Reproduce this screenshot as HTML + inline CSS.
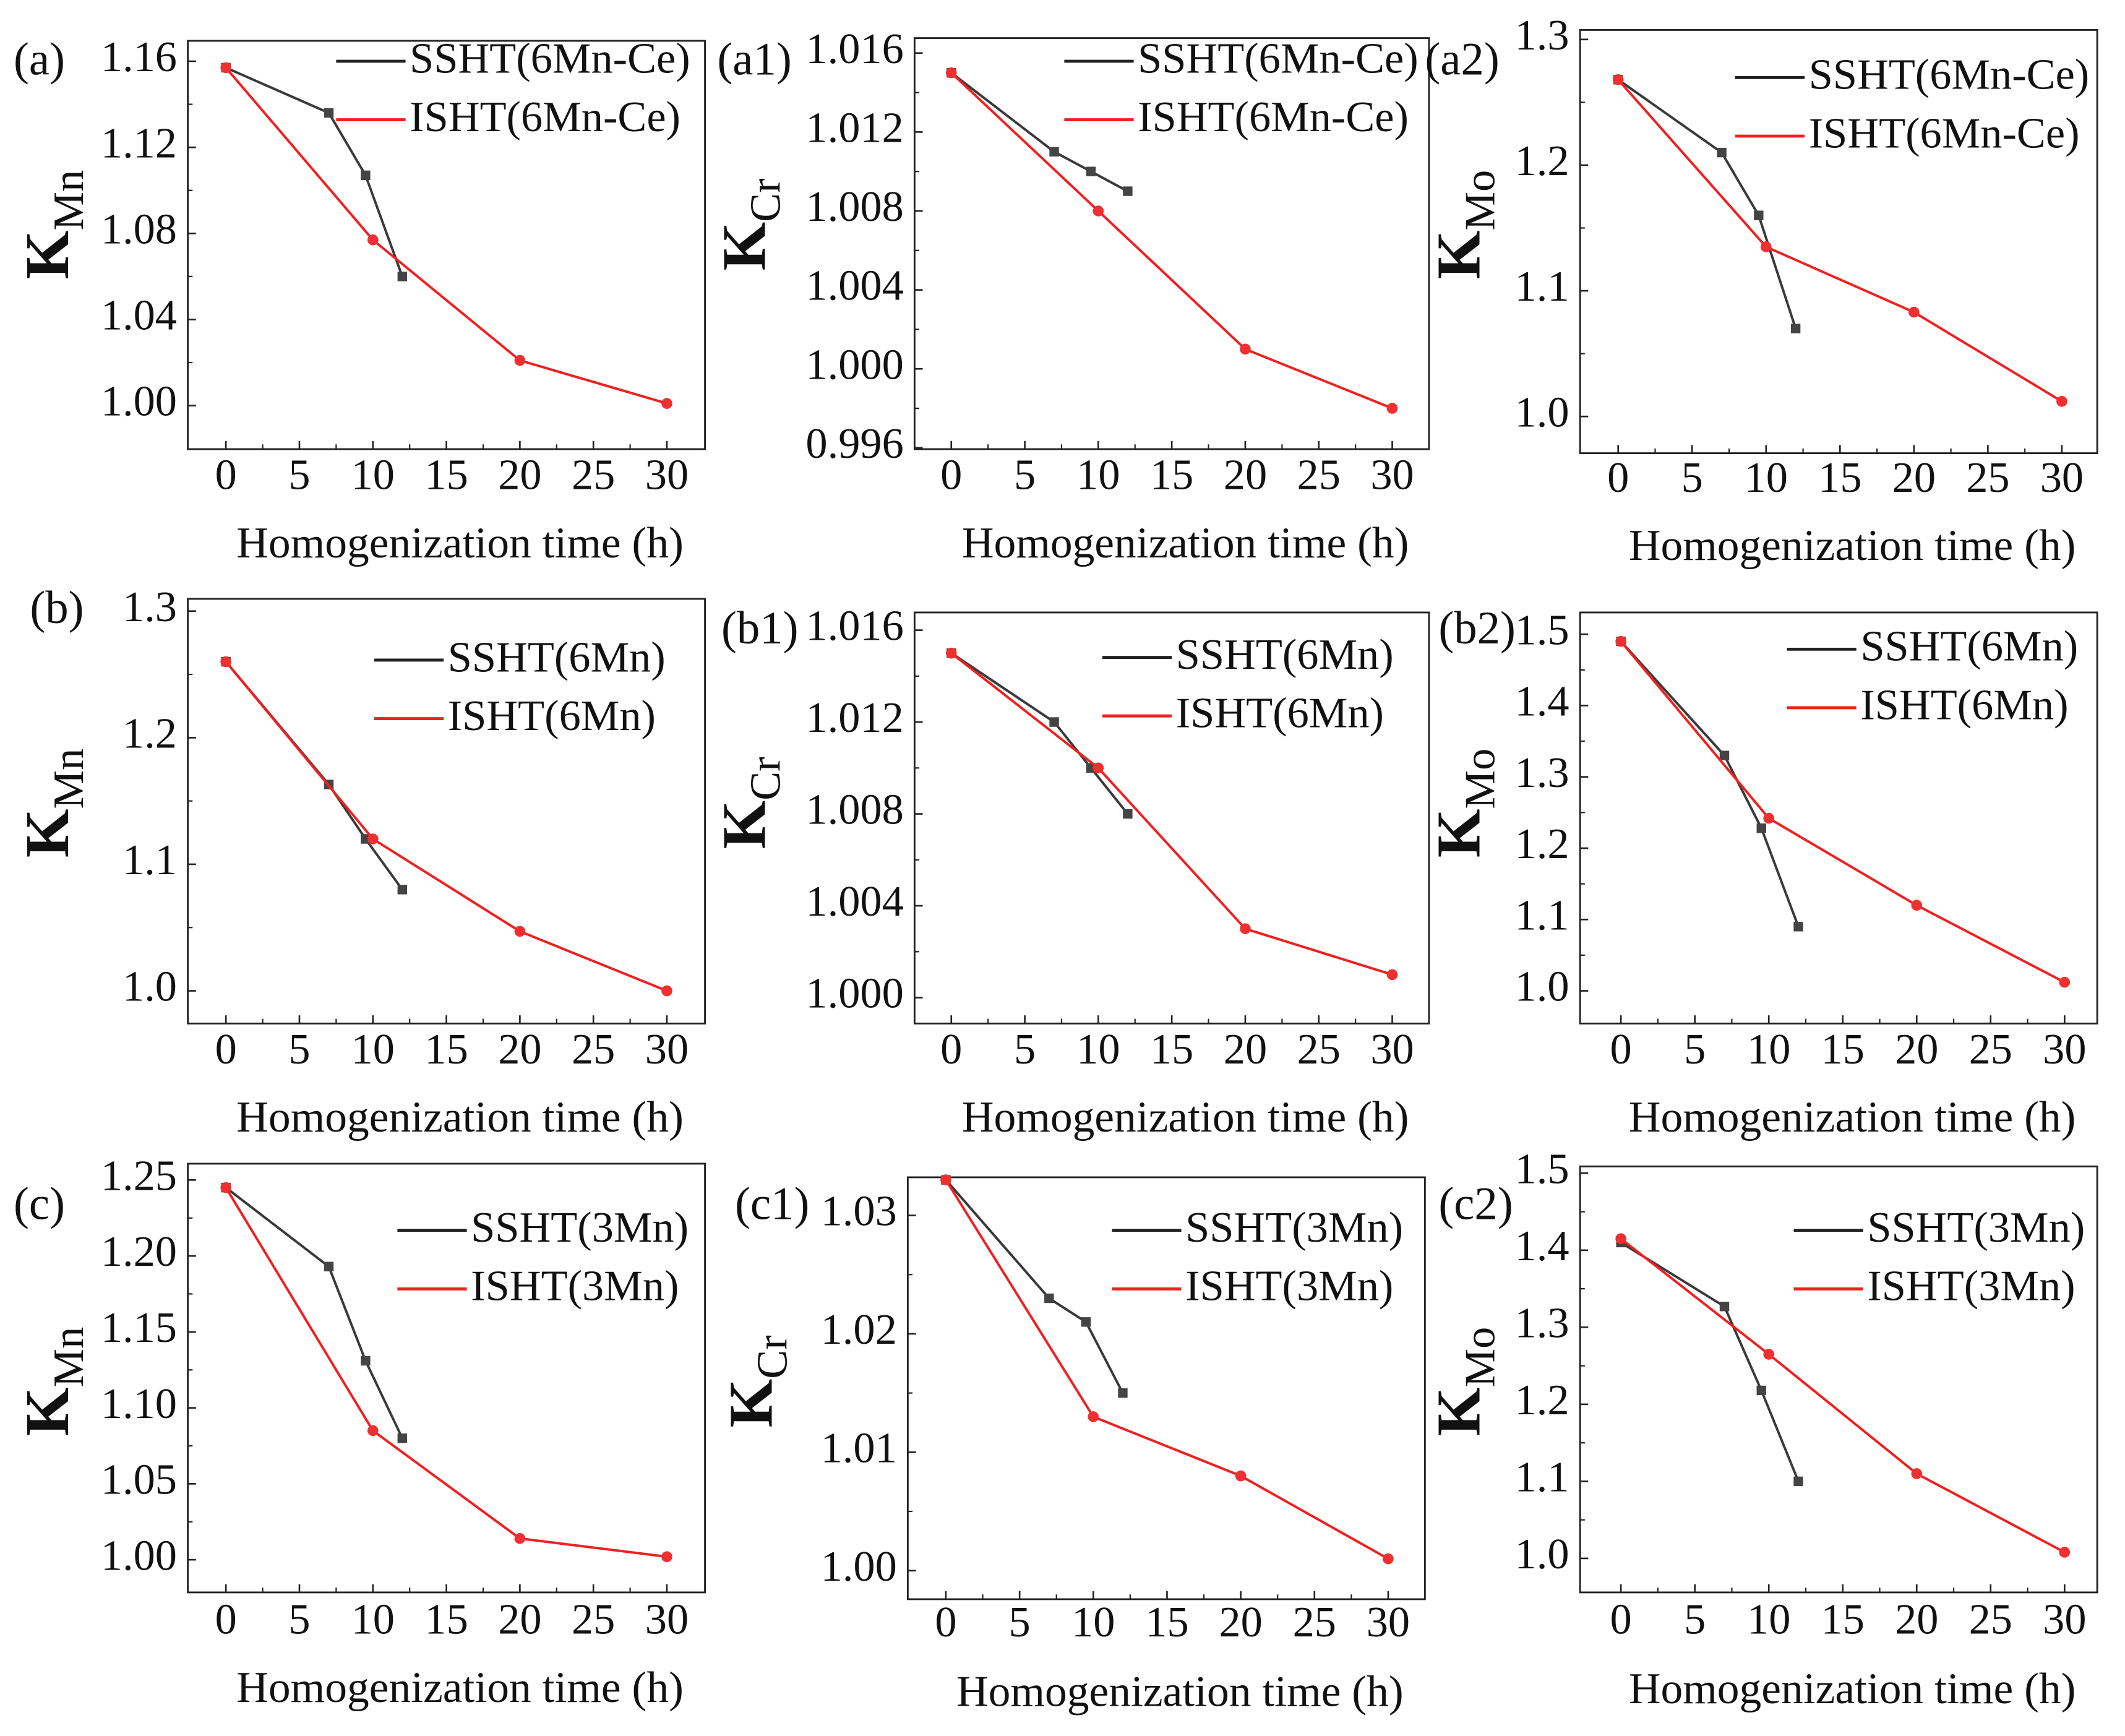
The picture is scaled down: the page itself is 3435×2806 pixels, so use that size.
<!DOCTYPE html>
<html><head><meta charset="utf-8"><style>
html,body{margin:0;padding:0;background:#fff;}
svg{display:block;}
text{font-family:"Liberation Serif","DejaVu Serif",serif;fill:#111;}
</style></head><body>
<svg id="fig" width="3435" height="2806" viewBox="0 0 1561.4 1275.5" preserveAspectRatio="none" xmlns="http://www.w3.org/2000/svg"></svg>
<script>
const xTicks=[0,5,10,15,20,25,30];
const sshtX=[0,7,9.5,12];
const ishtX=[0,10,20,30];
const panelIds=['a','a1','a2','b','b1','b2','c','c1','c2'];
const elements=['Mn','Cr','Mo','Mn','Cr','Mo','Mn','Cr','Mo'];
const legendNames=['6Mn-Ce','6Mn-Ce','6Mn-Ce','6Mn','6Mn','6Mn','3Mn','3Mn','3Mn'];
const sshtA=[1.157,1.136,1.107,1.06];
const ishtA=[1.157,1.077,1.021,1.001];
const sshtA1=[1.015,1.011,1.010,1.009];
const ishtA1=[1.015,1.008,1.001,0.998];
const sshtA2=[1.268,1.21,1.16,1.07];
const ishtA2=[1.268,1.135,1.083,1.012];
const sshtB=[1.26,1.163,1.12,1.08];
const ishtB=[1.26,1.12,1.047,1.0];
const sshtB1=[1.015,1.012,1.010,1.008];
const ishtB1=[1.015,1.010,1.003,1.001];
const sshtB2=[1.49,1.33,1.228,1.09];
const ishtB2=[1.49,1.242,1.12,1.012];
const sshtC=[1.245,1.193,1.131,1.08];
const ishtC=[1.245,1.085,1.014,1.002];
const sshtC1=[1.033,1.023,1.021,1.015];
const ishtC1=[1.033,1.013,1.008,1.001];
const sshtC2=[1.41,1.327,1.218,1.10];
const ishtC2=[1.415,1.265,1.11,1.008];
const yTicksA=['1.00','1.04','1.08','1.12','1.16'];
const yTicksA1=['0.996','1.000','1.004','1.008','1.012','1.016'];
const yTicksA2=['1.0','1.1','1.2','1.3'];
const yTicksB=['1.0','1.1','1.2','1.3'];
const yTicksB1=['1.000','1.004','1.008','1.012','1.016'];
const yTicksB2=['1.0','1.1','1.2','1.3','1.4','1.5'];
const yTicksC=['1.00','1.05','1.10','1.15','1.20','1.25'];
const yTicksC1=['1.00','1.01','1.02','1.03'];
const yTicksC2=['1.0','1.1','1.2','1.3','1.4','1.5'];
const sshtSeries=[sshtA,sshtA1,sshtA2,sshtB,sshtB1,sshtB2,sshtC,sshtC1,sshtC2];
const ishtSeries=[ishtA,ishtA1,ishtA2,ishtB,ishtB1,ishtB2,ishtC,ishtC1,ishtC2];
const yTickSets=[yTicksA,yTicksA1,yTicksA2,yTicksB,yTicksB1,yTicksB2,yTicksC,yTicksC1,yTicksC2];

const layout=[
 {l:138,r:518,t:30,b:330,x0:166,x30:490,yLo:298,yHi:45,ty:352,tt:402,lab:[10,47],yt:[50,165],lg:[247,45]},
 {l:672,r:1050,t:28,b:330,x0:699,x30:1023,yLo:329,yHi:39,ty:352,tt:402,lab:[527,47],yt:[562,165],lg:[782,45]},
 {l:1161,r:1541,t:22,b:333,x0:1189,x30:1515,yLo:306,yHi:29,ty:354,tt:404,lab:[1047,47],yt:[1087,165],lg:[1275,57]},
 {l:138,r:518,t:440,b:752,x0:166,x30:490,yLo:728,yHi:449,ty:774,tt:824,lab:[22,450],yt:[50,590],lg:[275,485]},
 {l:672,r:1050,t:450,b:752,x0:699,x30:1023,yLo:733,yHi:463,ty:774,tt:824,lab:[530,465],yt:[562,590],lg:[810,483]},
 {l:1161,r:1541,t:450,b:752,x0:1191,x30:1517,yLo:728,yHi:466,ty:774,tt:824,lab:[1057,465],yt:[1087,590],lg:[1313,477]},
 {l:138,r:518,t:855,b:1170,x0:166,x30:490,yLo:1146,yHi:867,ty:1193,tt:1243,lab:[10,888],yt:[50,1015],lg:[292,904]},
 {l:667,r:1047,t:865,b:1175,x0:695,x30:1020,yLo:1154,yHi:893,ty:1195,tt:1246,lab:[540,888],yt:[567,1015],lg:[817,904]},
 {l:1161,r:1541,t:857,b:1170,x0:1191,x30:1517,yLo:1145,yHi:862,ty:1193,tt:1244,lab:[1057,888],yt:[1087,1015],lg:[1318,904]}
];
const NS='http://www.w3.org/2000/svg';
const svg=document.getElementById('fig');
function mk(tag,attrs,parent){const e=document.createElementNS(NS,tag);for(const k in attrs)e.setAttribute(k,attrs[k]);(parent||svg).appendChild(e);return e;}
panelIds.forEach((id,i)=>{
 const L=layout[i];
 const g=mk('g',{});
 
 
 const ticks=yTickSets[i].map(Number);
 const vLo=ticks[0],vHi=ticks[ticks.length-1];
 const xS=v=>L.x0+(L.x30-L.x0)*v/30;
 const yS=v=>L.yLo+(L.yHi-L.yLo)*(v-vLo)/(vHi-vLo);
 const box=mk('rect',{x:L.l,y:L.t,width:L.r-L.l,height:L.b-L.t,fill:'none',stroke:'#222','stroke-width':1.3},g);
 
 
 xTicks.forEach((t,k)=>{
  const x=xS(t);
  mk('line',{x1:x,x2:x,y1:L.b,y2:L.b-6,stroke:'#222','stroke-width':1.2},g);
  if(k<xTicks.length-1){const xm=xS(t+2.5);mk('line',{x1:xm,x2:xm,y1:L.b,y2:L.b-3.5,stroke:'#222','stroke-width':1},g);}
  const tx=mk('text',{x:x,y:L.ty,'font-size':32,'text-anchor':'middle','dominant-baseline':'middle'},g);
  tx.textContent=String(t);
  
  
 });
 const step=ticks[1]-ticks[0];
 yTickSets[i].forEach((lab,k)=>{
  const v=ticks[k],y=yS(v);
  mk('line',{x1:L.l,x2:L.l+6,y1:y,y2:y,stroke:'#222','stroke-width':1.2},g);
  const ym=yS(v+step/2);
  if(ym>L.t+1) mk('line',{x1:L.l,x2:L.l+3.5,y1:ym,y2:ym,stroke:'#222','stroke-width':1},g);
  if(k===0){const yb=yS(v-step/2); if(yb<L.b-1) mk('line',{x1:L.l,x2:L.l+3.5,y1:yb,y2:yb,stroke:'#222','stroke-width':1},g);}
  const ty=mk('text',{x:L.l-8,y:y,'font-size':32,'text-anchor':'end','dominant-baseline':'middle'},g);
  ty.textContent=lab;
  
  
 });
 const xt=mk('text',{x:(L.l+L.r)/2+10,y:L.tt,'font-size':32.5,'text-anchor':'middle','dominant-baseline':'middle'},g);
 xt.textContent='Homogenization time (h)';
 
 
 const yt=mk('text',{x:0,y:0,'font-size':46,'text-anchor':'middle','font-weight':'bold',transform:`translate(${L.yt[0]},${L.yt[1]}) rotate(-90)`},g);
 yt.innerHTML='K<tspan font-size="32" font-weight="normal" dy="11">'+elements[i]+'</tspan>';
 
 
 const pl=mk('text',{x:L.lab[0],y:L.lab[1],'font-size':34,'dominant-baseline':'middle'},g);
 pl.textContent='('+id+')';
 
 
 const sp=sshtX.map((x,k)=>xS(x)+','+yS(sshtSeries[i][k])).join(' ');
 const ip=ishtX.map((x,k)=>xS(x)+','+yS(ishtSeries[i][k])).join(' ');
 const sl=mk('polyline',{points:sp,fill:'none',stroke:'#3a3a3a','stroke-width':1.8},g);
 
 
 sshtX.forEach((x,k)=>{const m=mk('rect',{x:xS(x)-3.5,y:yS(sshtSeries[i][k])-3.5,width:7,height:7,fill:'#444'},g);
  
  });
 const il=mk('polyline',{points:ip,fill:'none',stroke:'#f02020','stroke-width':1.8},g);
 
 
 ishtX.forEach((x,k)=>{const m=mk('circle',{cx:xS(x),cy:yS(ishtSeries[i][k]),r:4,fill:'#f03030'},g);
  
  });
 [['SSHT','#222'],['ISHT','#f02020']].forEach((s,k)=>{
  const y=L.lg[1]+k*43;
  const ln=mk('line',{x1:L.lg[0],x2:L.lg[0]+51,y1:y,y2:y,stroke:s[1],'stroke-width':2.2},g);
  
  
  const t=mk('text',{x:L.lg[0]+54,y:y+1,'font-size':32,'dominant-baseline':'middle'},g);
  t.textContent=s[0]+'('+legendNames[i]+')';
  
  
 });
});
</script>
</body></html>
